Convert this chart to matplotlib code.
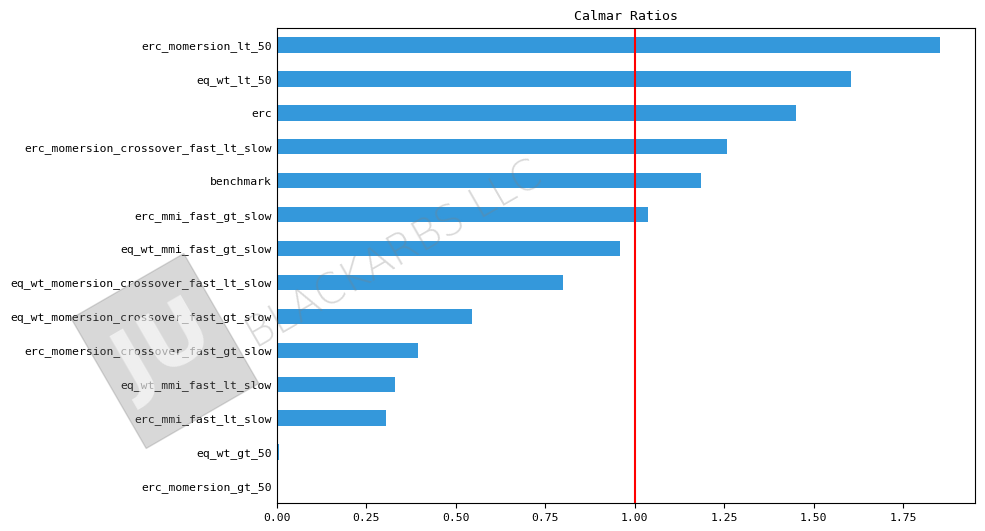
import matplotlib
matplotlib.use("Agg")
import matplotlib.pyplot as plt
import matplotlib.patches as mpatches
import matplotlib.transforms as mtrans

categories = ["erc_momersion_lt_50", "eq_wt_lt_50", "erc", "erc_momersion_crossover_fast_lt_slow",
              "benchmark", "erc_mmi_fast_gt_slow", "eq_wt_mmi_fast_gt_slow",
              "eq_wt_momersion_crossover_fast_lt_slow", "eq_wt_momersion_crossover_fast_gt_slow",
              "erc_momersion_crossover_fast_gt_slow", "eq_wt_mmi_fast_lt_slow", "erc_mmi_fast_lt_slow",
              "eq_wt_gt_50", "erc_momersion_gt_50"]
values = [1.853, 1.605, 1.451, 1.258, 1.185, 1.037, 0.959, 0.80, 0.545, 0.394, 0.33, 0.305, 0.005, 0.0]

plt.rcParams['font.family'] = ['DejaVu Sans Mono']
fig = plt.figure(figsize=(9.85, 5.31), dpi=100)
ax = fig.add_axes([0.281, 0.053, 0.709, 0.894])
y = list(range(len(categories)))[::-1]
ax.barh(y, values, height=0.45, color="#3498db")
ax.set_yticks(y)
ax.set_yticklabels(categories, fontsize=8.2)
ax.set_ylim(-0.5, len(categories) - 0.5)
ax.set_xlim(0, 1.951)
ax.set_xticks([0, 0.25, 0.5, 0.75, 1.0, 1.25, 1.5, 1.75])
ax.set_xticklabels(["0.00", "0.25", "0.50", "0.75", "1.00", "1.25", "1.50", "1.75"], fontsize=8.2)
ax.axvline(1.0, color="red", lw=1.5)
ax.set_title("Calmar Ratios", fontsize=9.5)
ax.tick_params(axis='y', length=0)

fig.text(0.40, 0.52, "BLACKARBS LLC", fontsize=30, color="gray", alpha=0.3,
         rotation=30, ha="center", va="center", fontfamily="DejaVu Sans", fontweight="light")
t = mtrans.Affine2D().rotate_deg_around(165, 180, 30)
rect = mpatches.Rectangle((100, 105), 130, 150, color="gray", alpha=0.3,
                          transform=t + mtrans.IdentityTransform())
fig.patches.append(rect)
fig.text(0.168, 0.34, "JU", fontsize=60, color="white", alpha=0.6, rotation=30,
         ha="center", va="center", fontweight="bold", fontfamily="DejaVu Sans")
fig.savefig("out.png", dpi=100)
